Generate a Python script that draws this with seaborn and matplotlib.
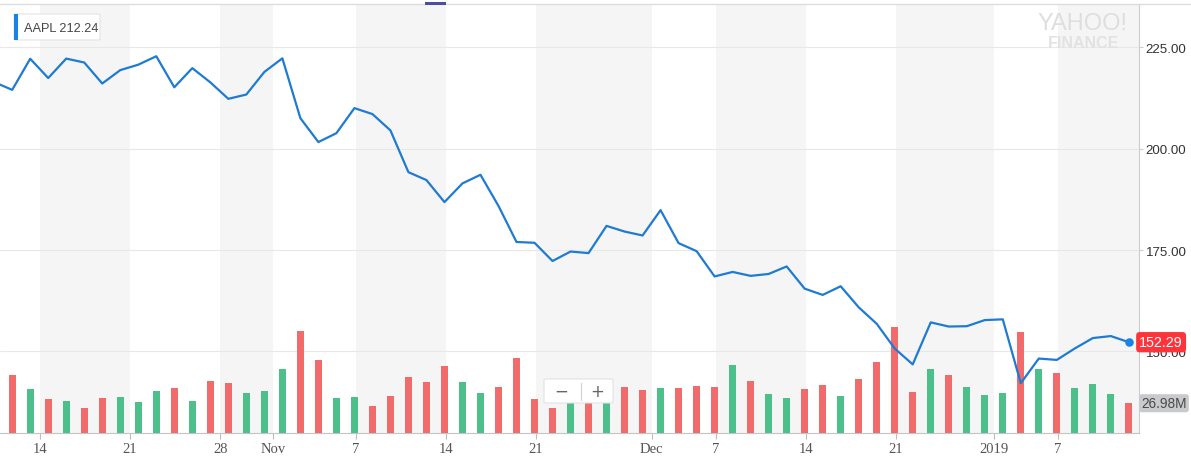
import numpy as np
import pandas as pd
import matplotlib
matplotlib.use("Agg")
import matplotlib.pyplot as plt
import matplotlib.ticker as mticker
from matplotlib.patches import Rectangle, FancyBboxPatch
from matplotlib.lines import Line2D
from matplotlib.transforms import blended_transform_factory
import seaborn as sns

# ------------------------------------------------------------------ data
TICKER = "AAPL"
HOVER_DATE = "2018-10-29"
PREV_CLOSE = 216.36          # close of the session just off the left edge

HOLIDAYS = ["2018-11-22", "2018-12-05", "2018-12-25", "2019-01-01"]
dates = pd.bdate_range("2018-10-11", "2019-01-11")
dates = dates[~dates.isin(pd.to_datetime(HOLIDAYS))]

close = [214.45, 222.11, 217.36, 222.15, 221.19, 216.02, 219.31, 220.65, 222.73, 215.09,
         219.80, 216.30, 212.24, 213.30, 218.86,
         222.22, 207.48, 201.59, 203.77, 209.95, 208.49, 204.47, 194.17, 192.23, 186.80,
         191.41, 193.53, 185.86, 176.98, 176.78, 172.29, 174.62, 174.24, 180.94, 179.55, 178.58,
         184.82, 176.69, 174.72, 168.49, 169.60, 168.63, 169.10, 170.95, 165.48, 163.94,
         166.07, 160.89, 156.83, 150.73, 146.83, 157.17, 156.15, 156.23, 157.74,
         157.92, 142.19, 148.26, 147.93, 150.75, 153.31, 153.80, 152.29]

volume_m = [52.5, 39.9, 30.4, 29.2, 22.9, 31.9, 32.8, 28.3, 38.1, 40.8,
            29.2, 47.1, 45.3, 36.3, 38.1,
            57.8, 91.3, 65.9, 31.9, 32.8, 24.7, 33.7, 50.7, 46.2, 60.5,
            46.2, 36.3, 41.7, 67.7, 31.0, 22.9, 44.9, 41.4, 46.1, 41.4, 38.8,
            40.6, 40.8, 42.6, 41.7, 61.1, 47.1, 35.2, 31.6, 39.9, 43.2,
            33.4, 48.6, 64.1, 95.4, 37.2, 57.6, 52.5, 41.4, 34.3,
            36.1, 91.0, 57.6, 54.3, 40.6, 44.1, 35.2, 26.98]

price_ticks = [150, 175, 200, 225]
tick_dates = ["2018-10-14", "2018-10-21", "2018-10-28", "2018-11-01", "2018-11-07",
              "2018-11-14", "2018-11-21", "2018-12-01", "2018-12-07", "2018-12-14",
              "2018-12-21", "2019-01-01", "2019-01-07"]
tick_labels = ["14", "21", "28", "Nov", "7", "14", "21", "Dec", "7", "14", "21", "2019", "7"]

# ------------------------------------------------------------------ frames
n = len(close)
prices = pd.DataFrame({"i": np.arange(-1, n), "close": [PREV_CLOSE] + close})
prev = np.array([PREV_CLOSE] + close[:-1])
vol = pd.DataFrame({"i": np.arange(n), "vol": volume_m,
                    "dir": np.where(np.array(close) >= prev, "up", "down")})


def tick_pos(d):
    d = pd.Timestamp(d)
    i = int(np.searchsorted(dates.values, d.to_datetime64()))
    if d.day == 1:
        return i - 0.5
    if d in dates:
        return i + 0.07
    return i - 0.45


xticks = [tick_pos(d) for d in tick_dates]

# ------------------------------------------------------------------ style
sns.set_theme(style="white")
plt.rcParams["font.family"] = ["Liberation Sans", "DejaVu Sans"]

W, H = 1191, 460
BAND = "#f5f5f5"
GRID = "#e8e8e8"
LINE = "#1f7bd2"
DOT = "#1a84e6"
UP = "#4dbf8b"
DOWN = "#f26b6c"


def fx(px):
    return px / W


def fy(py):
    return 1 - py / H


fig = plt.figure(figsize=(W / 100, H / 100), dpi=100)
fig.patch.set_facecolor("white")
AX_R, AX_T, AX_B = 1139.3, 5, 434.3
ax = fig.add_axes([0, fy(AX_B), fx(AX_R), (AX_B - AX_T) / H])
ax_v = ax.twinx()
ax_l = ax.twinx()

XMIN, XMAX = -0.677, 62.58
PMIN, PMAX = 129.85, 235.6
VMAX = 385.0

# base layer: bands + grid + axes
for k in range(0, len(xticks), 2):
    right = xticks[k + 1] if k + 1 < len(xticks) else XMAX + 1
    ax.axvspan(xticks[k], right, color=BAND, lw=0, zorder=0)
ax.set_axisbelow(True)
ax.grid(axis="y", color=GRID, linewidth=0.8)
ax.grid(axis="x", visible=False)

# volume bars
sns.barplot(data=vol, x="i", y="vol", hue="dir", palette={"up": UP, "down": DOWN},
            native_scale=True, dodge=False, width=0.4, errorbar=None, legend=False,
            saturation=1, linewidth=0, ax=ax_v)

# price line
sns.lineplot(data=prices, x="i", y="close", color=LINE, linewidth=1.6, ax=ax_l)
sns.scatterplot(x=[n - 1], y=[close[-1]], color=DOT, s=38, linewidth=0, ax=ax_l, zorder=5)

# limits
ax.set_xlim(XMIN, XMAX)
ax.set_ylim(PMIN, PMAX)
ax_l.set_ylim(PMIN, PMAX)
ax_v.set_ylim(0, VMAX)

# ticks
ax.yaxis.tick_right()
ax.set_yticks(price_ticks)
ax.yaxis.set_major_formatter(mticker.FormatStrFormatter("%.2f"))
ax.tick_params(axis="y", right=True, left=False, labelright=True, labelleft=False,
               length=3, width=0.8, color="#cccccc", pad=1.5, labelsize=9.6, labelcolor="#333333")
ax.set_xticks(xticks)
ax.set_xticklabels(tick_labels)
ax.tick_params(axis="x", bottom=True, length=4, width=0.8, color="#bdbdbd", pad=2.5,
               labelsize=10.5, labelcolor="#555555")
for lbl in ax.get_xticklabels():
    lbl.set_fontfamily(["Liberation Serif", "DejaVu Serif"])
for a in (ax, ax_v, ax_l):
    a.set_xlabel("")
    a.set_ylabel("")
for a in (ax_v, ax_l):
    a.set_yticks([])
    for s in a.spines.values():
        s.set_visible(False)
ax.spines["left"].set_visible(False)
ax.spines["top"].set_visible(False)
ax.spines["right"].set_color("#cccccc")
ax.spines["right"].set_linewidth(0.8)
ax.spines["bottom"].set_color("#c4c4c4")
ax.spines["bottom"].set_linewidth(0.8)

# right-edge value flags
tr_l = blended_transform_factory(ax_l.transAxes, ax_l.transData)
ax_l.annotate(f"{close[-1]:.2f}", xy=(1.0, close[-1]), xycoords=tr_l,
              xytext=(0, 0), textcoords="offset pixels", ha="left", va="center",
              color="white", fontsize=10.3, annotation_clip=False, zorder=10,
              bbox=dict(boxstyle="round,pad=0.22,rounding_size=0.25", fc="#ff333a", ec="none"))
tr_v = blended_transform_factory(ax_v.transAxes, ax_v.transData)
ax_v.annotate(f"{volume_m[-1]:.2f}M", xy=(1.0, volume_m[-1]), xycoords=tr_v,
              xytext=(2, 0), textcoords="offset pixels", ha="left", va="center",
              color="#4a4a4a", fontsize=9.8, annotation_clip=False, zorder=10,
              bbox=dict(boxstyle="round,pad=0.15,rounding_size=0.2", fc="#c9cacd", ec="none"))

# ------------------------------------------------------------------ chrome
fig.add_artist(Line2D([0, 1], [fy(5), fy(5)], transform=fig.transFigure,
                      color="#dddddd", lw=1.0, zorder=20))
fig.add_artist(Rectangle((fx(425), fy(6)), fx(446) - fx(425), fy(2.5) - fy(6),
                         transform=fig.transFigure, fc="#4b4f9e", ec="none", zorder=21))

# legend chip
hover_val = close[list(dates).index(pd.Timestamp(HOVER_DATE))]
fig.add_artist(FancyBboxPatch((fx(14), fy(41)), fx(100) - fx(14), fy(15) - fy(41),
                              boxstyle="round,pad=0,rounding_size=0.002",
                              transform=fig.transFigure, fc="white", ec="#e4e4e4",
                              lw=0.8, zorder=20))
fig.add_artist(Rectangle((fx(14), fy(41)), fx(18.3) - fx(14), fy(15) - fy(41),
                         transform=fig.transFigure, fc="#1a82e2", ec="none", zorder=21))
fig.text(fx(23.5), fy(28.5), f"{TICKER} {hover_val:.2f}", ha="left", va="center",
         fontsize=9.2, color="#444444", zorder=22)

# zoom control
fig.add_artist(FancyBboxPatch((fx(544), fy(404)), fx(613) - fx(544), fy(380) - fy(404),
                              boxstyle="round,pad=0,rounding_size=0.002",
                              transform=fig.transFigure, fc="white", ec="#e2e2e2",
                              lw=0.8, zorder=20))
fig.add_artist(Line2D([fx(580.7), fx(580.7)], [fy(401), fy(384)], transform=fig.transFigure,
                      color="#d0d0d0", lw=0.8, zorder=21))
fig.text(fx(561), fy(392), "\u2212", ha="center", va="center", fontsize=12,
         color="#666666", zorder=22, family=["DejaVu Sans"])
fig.text(fx(597), fy(392), "+", ha="center", va="center", fontsize=12,
         color="#666666", zorder=22, family=["DejaVu Sans"])

# watermark
fig.text(fx(1083), fy(24), "YAHOO!", ha="center", va="center", fontsize=17,
         color="#dedede", zorder=22, family=["Liberation Sans Narrow", "Liberation Sans"])
fig.text(fx(1084), fy(43.5), "FINANCE", ha="center", va="center", fontsize=11.5,
         color="#e2e2e2", zorder=22, fontweight="bold")

fig.savefig("out.png", dpi=100, facecolor="white")
